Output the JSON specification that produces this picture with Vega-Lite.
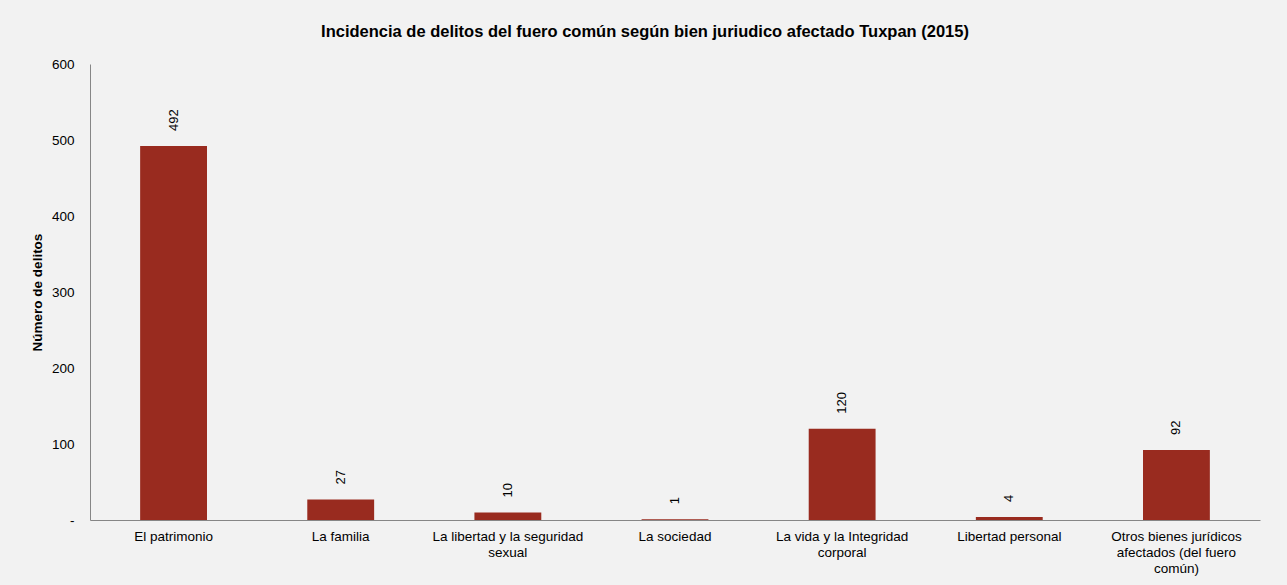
{
  "$schema": "https://vega.github.io/schema/vega-lite/v6.json",
  "width": 1170,
  "height": 456,
  "autosize": {"type": "none"},
  "padding": {"left": 90, "top": 64, "right": 27, "bottom": 65},
  "background": "#F2F2F2",
  "title": {
    "text": "Incidencia de delitos del fuero común según bien juriudico afectado Tuxpan (2015)",
    "font": "Liberation Sans",
    "fontSize": 16.5,
    "fontWeight": "bold",
    "color": "#000000",
    "anchor": "middle",
    "dx": -30,
    "offset": 17
  },
  "data": {
    "values": [
      {"bien": "El patrimonio", "delitos": 492},
      {"bien": "La familia", "delitos": 27},
      {"bien": "La libertad y la seguridad sexual", "delitos": 10},
      {"bien": "La sociedad", "delitos": 1},
      {"bien": "La vida y la Integridad corporal", "delitos": 120},
      {"bien": "Libertad personal", "delitos": 4},
      {"bien": "Otros bienes jurídicos afectados (del fuero común)", "delitos": 92}
    ]
  },
  "encoding": {
    "x": {
      "field": "bien",
      "type": "nominal",
      "sort": null,
      "scale": {"paddingInner": 0.6, "paddingOuter": 0.3},
      "axis": {
        "title": null,
        "labelAngle": 0,
        "labelFont": "Liberation Sans",
        "labelFontSize": 13.5,
        "labelColor": "#000000",
        "labelPadding": 9,
        "labelLineHeight": 16,
        "labelLimit": 300,
        "ticks": false,
        "domainColor": "#868686",
        "labelExpr": "datum.label == 'La libertad y la seguridad sexual' ? ['La libertad y la seguridad', 'sexual'] : datum.label == 'La vida y la Integridad corporal' ? ['La vida y la Integridad', 'corporal'] : datum.label == 'Otros bienes jurídicos afectados (del fuero común)' ? ['Otros bienes jurídicos', 'afectados (del fuero', 'común)'] : datum.label"
      }
    },
    "y": {
      "field": "delitos",
      "type": "quantitative",
      "scale": {"domain": [0, 600]},
      "axis": {
        "title": "Número de delitos",
        "titleFont": "Liberation Sans",
        "titleFontSize": 13.5,
        "titleFontWeight": "bold",
        "titleColor": "#000000",
        "titleX": -53,
        "titleBaseline": "middle",
        "values": [0, 100, 200, 300, 400, 500, 600],
        "labelExpr": "datum.value == 0 ? '-' : datum.label",
        "labelFont": "Liberation Sans",
        "labelFontSize": 13.5,
        "labelColor": "#000000",
        "labelPadding": 16,
        "ticks": false,
        "grid": false,
        "domainColor": "#868686"
      }
    }
  },
  "layer": [
    {"mark": {"type": "bar", "color": "#992B1F"}},
    {
      "mark": {
        "type": "text",
        "angle": 270,
        "align": "left",
        "baseline": "middle",
        "dx": 15,
        "font": "Liberation Sans",
        "fontSize": 13,
        "color": "#000000"
      },
      "encoding": {"text": {"field": "delitos", "type": "quantitative"}}
    }
  ],
  "config": {
    "view": {"stroke": null}
  }
}
